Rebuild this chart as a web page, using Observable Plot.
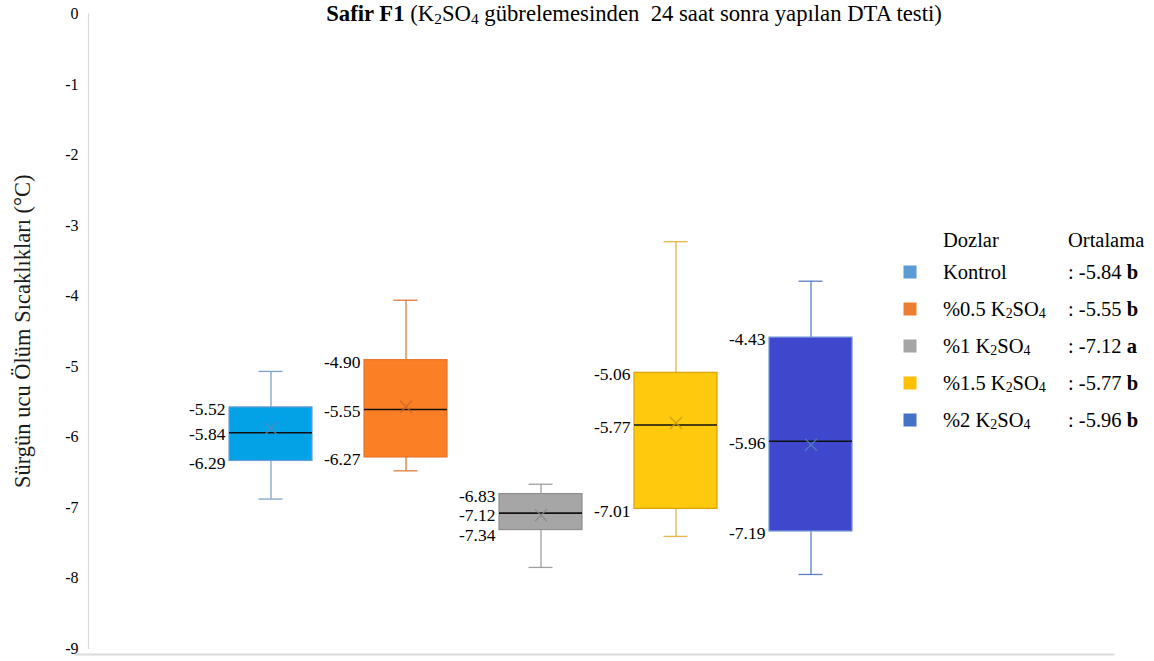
<!DOCTYPE html>
<html>
<head>
<meta charset="utf-8">
<script src="https://cdn.jsdelivr.net/npm/d3@7"></script>
<script src="https://cdn.jsdelivr.net/npm/@observablehq/plot@0.6"></script>
<style>
  html, body { margin: 0; padding: 0; background: #fff; }
  #wrap { position: relative; width: 1154px; height: 661px; overflow: hidden; font-family: "Liberation Serif", "Times New Roman", serif; color: #000; }
  #title { position: absolute; z-index: 2; left: 0; width: 1268px; top: 1px; text-align: center; font-size: 22.7px; white-space: pre; }
  #legend { position: absolute; z-index: 2; left: 0; top: 0; width: 1154px; height: 661px; pointer-events: none; font-size: 20.5px; }
  .lg { position: absolute; white-space: pre; line-height: 1; transform: translateY(-50%); }
  .sw { position: absolute; width: 13px; height: 13px; transform: translate(-50%, -50%); }
  sub { font-size: 68%; vertical-align: -0.18em; line-height: 0; }
  svg { position: absolute; left: 0; top: 0; z-index: 1; }
</style>
</head>
<body>
<div id="wrap">
  <div id="title"></div>
  <div id="legend"></div>
</div>
<script>
// ---- data ----
const doses = ["Kontrol", "%0.5 K2SO4", "%1 K2SO4", "%1.5 K2SO4", "%2 K2SO4"];
const whiskerHigh = [-5.07, -4.06, -6.67, -3.23, -3.79];
const q3 = [-5.58, -4.91, -6.81, -5.09, -4.59];
const median = [-5.94, -5.61, -7.08, -5.83, -6.06];
const q1 = [-6.34, -6.29, -7.32, -7.02, -7.34];
const whiskerLow = [-6.88, -6.48, -7.85, -7.41, -7.95];
const mean = [-5.88, -5.57, -7.11, -5.80, -6.11];
const labelQ3 = ["-5.52", "-4.90", "-6.83", "-5.06", "-4.43"];
const labelMedian = ["-5.84", "-5.55", "-7.12", "-5.77", "-5.96"];
const labelQ1 = ["-6.29", "-6.27", "-7.34", "-7.01", "-7.19"];
const legendMeans = ["-5.84", "-5.55", "-7.12", "-5.77", "-5.96"];
const legendLetters = ["b", "b", "a", "b", "b"];
const yTicks = [0, -1, -2, -3, -4, -5, -6, -7, -8, -9];
const yTitle = "Sürgün ucu Ölüm Sıcaklıkları (°C)";
const legendHeaders = ["Dozlar", "Ortalama"];

// ---- styles ----
const boxFill = ["#03a2e6", "#fb7f24", "#a6a6a6", "#ffc90d", "#3f48cc"];
const boxStroke = ["#6a9ed6", "#e8732a", "#8e8e8e", "#dda10a", "#7393d8"];
const whiskerStroke = ["#7da3cb", "#e07b3c", "#a0a0a0", "#e5b64c", "#5c7ec2"];
const meanStroke = ["#5a86ba", "#c9652a", "#8a8a8a", "#c99d12", "#4f84b8"];
const legendSwatch = ["#5b9bd5", "#ed7d31", "#a5a5a5", "#ffc000", "#4472c4"];

const rows = doses.map((dose, i) => ({
  dose, i, hi: whiskerHigh[i], q3: q3[i], med: median[i], q1: q1[i], lo: whiskerLow[i], mean: mean[i]
}));

// value labels beside each box; keep a minimum spacing so they don't collide
const minGap = 0.28;
const labels = [];
rows.forEach((r, i) => {
  const texts = [labelQ3[i], labelMedian[i], labelQ1[i]];
  const ys = [r.q3, r.med, r.q1];
  for (let k = 1; k < 3; k++) ys[k] = Math.min(ys[k], ys[k - 1] - minGap);
  texts.forEach((t, k) => labels.push({dose: r.dose, y: ys[k], text: t}));
});

const bandW = 83;
const capInset = (bandW - 24) / 2;

const chart = Plot.plot({
  width: 1154,
  height: 661,
  marginLeft: 75,
  marginRight: 41,
  marginTop: 13.5,
  marginBottom: 13,
  style: {fontFamily: "Liberation Serif, Times New Roman, serif", fontSize: "16px", background: "white", color: "#000"},
  x: {type: "band", domain: doses, range: [161.3, 919.3], paddingInner: 0.3852, paddingOuter: 0.5, axis: null},
  y: {domain: [-9, 0]},
  color: {type: "identity"},
  marks: [
    Plot.frame({anchor: "left", dx: 13, stroke: "#d9d9d9", strokeWidth: 1.2}),
    Plot.frame({anchor: "bottom", dy: 6, stroke: "#dcdcdc", strokeWidth: 2}),
    Plot.axisY({ticks: yTicks, tickFormat: d => String(d), tickSize: 0, tickPadding: 0, dx: 3, fontSize: 16, fill: "#000"}),
    Plot.text([yTitle], {frameAnchor: "left", textAnchor: "middle", rotate: -90, dx: -53, fontSize: 22.5, fill: "#1a1a1a", text: d => d}),
    Plot.ruleX(rows, {x: "dose", y1: "q3", y2: "hi", stroke: d => whiskerStroke[d.i], strokeWidth: 1.3}),
    Plot.ruleX(rows, {x: "dose", y1: "q1", y2: "lo", stroke: d => whiskerStroke[d.i], strokeWidth: 1.3}),
    Plot.tickY(rows, {x: "dose", y: "hi", stroke: d => whiskerStroke[d.i], strokeWidth: 1.3, insetLeft: capInset, insetRight: capInset}),
    Plot.tickY(rows, {x: "dose", y: "lo", stroke: d => whiskerStroke[d.i], strokeWidth: 1.3, insetLeft: capInset, insetRight: capInset}),
    Plot.barY(rows, {x: "dose", y1: "q1", y2: "q3", fill: d => boxFill[d.i], stroke: d => boxStroke[d.i], strokeWidth: 1.2}),
    Plot.tickY(rows, {x: "dose", y: "med", stroke: "#111", strokeWidth: 1.6}),
    Plot.dot(rows, {x: "dose", y: "mean", symbol: "times", r: 5.5, stroke: d => meanStroke[d.i], strokeWidth: 1.5, strokeOpacity: 0.8}),
    Plot.text(labels, {x: "dose", y: "y", text: "text", textAnchor: "end", dx: -(bandW / 2 + 4), dy: 2, fontSize: 17.5, fill: "#000"})
  ]
});
document.getElementById("wrap").appendChild(chart);

// ---- title (HTML, with subscripts) ----
document.getElementById("title").innerHTML =
  "<b>Safir F1</b> (K<sub>2</sub>SO<sub>4</sub> gübrelemesinden  24 saat sonra yapılan DTA testi)";

// ---- legend ----
const fmtName = s => s.replace("K2SO4", "K<sub>2</sub>SO<sub>4</sub>");
const lg = document.getElementById("legend");
const colName = 943, colMean = 1068, swX = 910, headY = 240, row0 = 271.5, rowStep = 37.2;
let html = `<div class="lg" style="left:${colName}px;top:${headY}px">${legendHeaders[0]}</div>` +
           `<div class="lg" style="left:${colMean}px;top:${headY}px">${legendHeaders[1]}</div>`;
doses.forEach((d, i) => {
  const y = row0 + i * rowStep;
  html += `<div class="sw" style="left:${swX}px;top:${y}px;background:${legendSwatch[i]}"></div>`;
  html += `<div class="lg" style="left:${colName}px;top:${y}px">${fmtName(d)}</div>`;
  html += `<div class="lg" style="left:${colMean}px;top:${y}px">: ${legendMeans[i]} <b>${legendLetters[i]}</b></div>`;
});
lg.innerHTML = html;
</script>
</body>
</html>
